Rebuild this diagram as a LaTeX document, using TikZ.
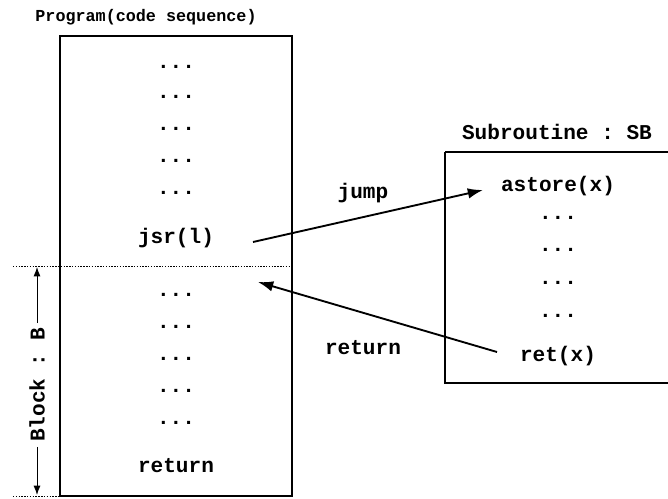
\documentclass[tikz,border=0pt]{standalone}
\usepackage{fontspec}
\setmonofont{Liberation Mono}
\usetikzlibrary{arrows.meta}
\tikzset{
  code/.style={font=\ttfamily\bfseries\fontsize{18}{20}\selectfont, inner sep=1pt},
  heading/.style={font=\ttfamily\bfseries\fontsize{14.3}{16}\selectfont, inner sep=1pt},
  frame/.style={line width=1.6pt},
  flow/.style={line width=1.6pt, -{Latex[length=13pt,width=9pt]}},
  divider/.style={line width=0.6pt, dash pattern=on 1.2pt off 1.2pt}
}
\begin{document}
\begin{tikzpicture}[x=0.03cm, y=-0.03cm]
  \useasboundingbox (0, 0) rectangle (668, 498);
  % program
  \node[heading] (prog) at (146, 17) {Program(code sequence)};
  \draw[frame] (60, 36) rectangle (292, 496);
  \foreach \y [count=\i] in {67, 97, 129, 161, 193}
    \node[code] (top\i) at (176, \y) {...};
  \node[code] (jsr) at (176, 238) {jsr(l)};
  \foreach \y [count=\i] in {295, 327, 359, 391, 423}
    \node[code] (bot\i) at (176, \y) {...};
  \node[code] (ret) at (176, 466) {return};
  % block B
  \coordinate (bstart) at (13, 266);
  \coordinate (bend) at (13, 496);
  \draw[divider] (bstart) -- (292, 266);
  \draw[divider] (bend) -- (60, 496);
  \node[code, rotate=90, inner sep=4pt] (block) at (37, 385) {Block : B};
  \draw[line width=0.8pt, -{Latex[length=8pt,width=6pt]}] (block.east) -- (37, 267);
  \draw[line width=0.8pt, -{Latex[length=8pt,width=6pt]}] (block.west) -- (37, 495);
  % subroutine
  \node[code] (subtitle) at (557, 132) {Subroutine : SB};
  \draw[frame] (445, 152) -- (668, 152);
  \draw[frame] (445, 152) -- (445, 383) -- (668, 383);
  \node[code] (astore) at (558, 186) {astore(x)};
  \foreach \y [count=\i] in {218, 250, 283, 316}
    \node[code] (sub\i) at (558, \y) {...};
  \node[code] (retx) at (558, 356) {ret(x)};
  % jumps
  \coordinate (jumpfrom) at (253, 242);
  \coordinate (jumpto) at (483, 190);
  \coordinate (backfrom) at (497, 352);
  \coordinate (backto) at (258, 282);
  \draw[flow] (jumpfrom) -- (jumpto);
  \draw[flow] (backfrom) -- (backto);
  \node[code] (jumplbl) at (363, 193) {jump};
  \node[code] (retlbl) at (363, 348) {return};
\end{tikzpicture}
\end{document}
